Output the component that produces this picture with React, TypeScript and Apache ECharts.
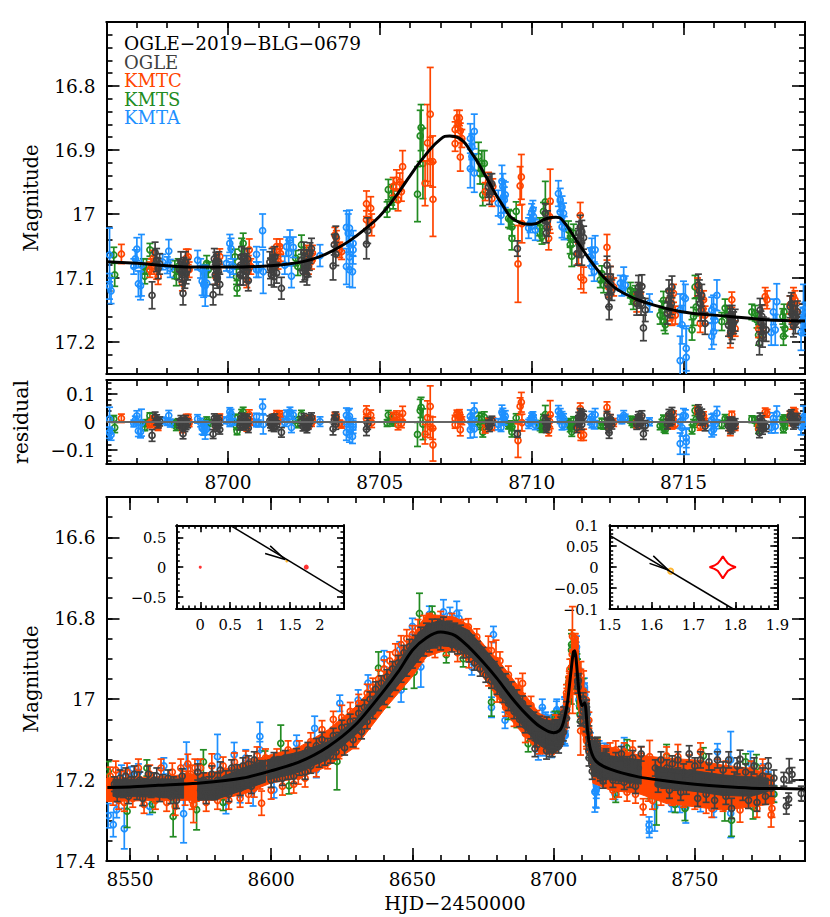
import React, { useEffect, useRef } from "react";
import * as echarts from "echarts";

const TITLE = "OGLE−2019−BLG−0679";
const FONT = '"DejaVu Serif", serif';
const GRAY = "#404040";
const ORANGE = "#ff4500";
const GREEN = "#228b22";
const BLUE = "#1e90ff";

// ---- close-up panel: [HJD-2450000, magnitude, error]
const ogleClose = [
[8697.5,17.127,.021],[8697.65,17.072,.018],[8697.7,17.085,.016],[8697.6,17.06,.016],[8697.75,17.078,.016],[8698.52,17.124,.018],[8698.4,17.087,.016],[8698.5,17.095,.016],[8698.62,17.093,.016],[8698.67,17.087,.016],[8698.55,17.082,.014],[8698.45,17.075,.016],[8698.58,17.1,.016],[8698.6,17.075,.016],[8698.48,17.09,.016],
[8699.51,17.126,.016],[8699.73,17.11,.016],[8699.62,17.087,.016],[8699.68,17.09,.016],[8699.58,17.095,.016],[8699.62,17.08,.016],[8699.55,17.07,.016],[8699.65,17.1,.016],[8699.6,17.076,.016],[8699.7,17.075,.016],
[8700.67,17.104,.016],[8700.45,17.067,.016],[8700.5,17.085,.016],[8700.62,17.09,.016],[8700.5,17.095,.016],[8700.4,17.095,.016],[8700.55,17.07,.016],[8700.6,17.078,.016],[8700.42,17.08,.016],[8700.65,17.07,.016],
[8701.76,17.116,.017],[8701.38,17.075,.016],[8701.49,17.08,.016],[8701.54,17.067,.016],[8701.43,17.095,.016],[8701.58,17.08,.016],[8701.45,17.07,.016],[8701.52,17.098,.016],[8701.6,17.092,.016],[8701.4,17.085,.016],
[8702.42,17.072,.016],[8702.53,17.077,.016],[8702.64,17.082,.016],[8702.7,17.061,.016],[8702.75,17.054,.016],[8702.53,17.087,.016],[8702.5,17.06,.016],[8702.6,17.095,.016],[8702.68,17.072,.016],[8702.47,17.09,.016],
[8703.46,17.081,.022],[8703.55,17.0625,.018],[8703.5,17.048,.016],[8703.55,17.035,.016],
[8704.56,17.047,.023],[8704.6,17.026,.02],
[8708.63,16.953,.016],[8708.58,16.958,.016],[8708.69,16.953,.016],[8708.61,16.969,.016],
[8709.53,17.054,.012],
[8710.5,17.02,.015],[8710.45,16.999,.015],[8710.52,17.01,.015],[8710.48,17.03,.015],
[8711.6,17.02,.018],[8711.65,17.028,.018],[8711.54,17.041,.018],[8711.49,17.062,.018],[8711.65,17.062,.018],[8711.71,17.037,.018],[8711.55,17.03,.018],[8711.6,17.05,.018],
[8712.48,17.08,.014],[8712.55,17.145,.02],[8712.59,17.098,.016],[8712.64,17.119,.016],[8712.53,17.129,.016],[8712.6,17.11,.016],[8712.5,17.11,.016],
[8713.52,17.114,.018],[8713.63,17.113,.018],[8713.57,17.129,.018],[8713.46,17.14,.018],[8713.74,17.15,.018],[8713.68,17.178,.02],[8713.5,17.125,.018],[8713.6,17.14,.018],
[8714.62,17.114,.017],[8714.51,17.135,.017],[8714.56,17.145,.017],[8714.47,17.155,.017],[8714.6,17.14,.017],[8714.52,17.12,.017],
[8715.49,17.111,.017],[8715.6,17.127,.017],[8715.55,17.14,.017],[8715.71,17.171,.017],[8715.52,17.12,.017],[8715.58,17.15,.017],
[8716.6,17.16,.017],[8716.7,17.166,.017],[8716.48,17.174,.017],[8716.6,17.179,.017],[8716.55,17.165,.017],[8716.52,17.16,.017],[8716.58,17.17,.017],[8716.65,17.17,.017],[8716.55,17.185,.017],
[8717.5,17.202,.018],[8717.58,17.16,.018],[8717.63,17.179,.018],[8717.72,17.181,.018],[8717.52,17.15,.018],[8717.55,17.17,.018],[8717.6,17.19,.018],
[8718.51,17.145,.017],[8718.63,17.16,.017],[8718.68,17.17,.017],[8718.57,17.155,.017],[8718.75,17.153,.017],[8718.55,17.14,.017],[8718.62,17.175,.017],[8718.7,17.16,.017],
];
const orangeClose = [
[8696.49,17.0625,.015],[8697.48,17.082,.012],[8697.54,17.069,.012],[8697.65,17.09,.012],[8697.7,17.098,.012],[8697.43,17.087,.012],
[8698.5,17.108,.012],[8698.63,17.069,.014],[8698.69,17.067,.012],[8698.72,17.087,.012],
[8699.62,17.082,.012],[8699.68,17.074,.012],[8699.73,17.0665,.012],[8699.6,17.098,.012],
[8700.7,17.056,.017],[8700.67,17.077,.012],[8700.62,17.103,.012],[8700.75,17.082,.012],
[8701.49,17.064,.012],[8701.6,17.051,.012],[8701.71,17.051,.012],[8701.65,17.074,.012],[8701.73,17.062,.012],
[8702.59,17.061,.012],[8702.75,17.074,.012],[8702.78,17.061,.012],[8702.65,17.082,.012],
[8703.52,17.033,.012],[8703.57,17.038,.012],[8703.68,17.056,.012],[8703.74,17.059,.012],
[8704.56,16.984,.02],[8704.7,16.991,.018],[8704.56,17.009,.014],[8704.73,17.017,.017],
[8705.44,16.957,.014],[8705.55,16.947,.016],[8705.66,16.95,.014],[8705.71,16.965,.015],[8705.6,16.978,.017],[8705.75,16.926,.025],
[8706.49,16.952,.035],[8706.57,16.889,.06],[8706.66,16.844,.073],[8706.66,16.918,.038],[8706.74,16.918,.04],[8706.75,16.977,.058],
[8707.48,16.868,.012],[8707.48,16.89,.012],[8707.54,16.85,.012],[8707.59,16.858,.012],[8707.65,16.911,.022],[8707.65,16.87,.012],[8707.7,16.882,.014],[8707.62,16.85,.012],
[8708.47,16.965,.014],[8708.58,16.949,.014],[8708.69,16.976,.012],[8708.72,16.957,.012],
[8709.66,16.942,.035],[8709.62,16.956,.03],[8709.68,17.015,.03],[8709.55,17.078,.06],
[8710.56,17.038,.018],[8710.61,16.98,.05],[8710.59,17.004,.02],
[8711.6,17.002,.02],[8711.62,17.099,.018],[8711.71,17.103,.02],[8711.54,17.062,.016],
[8712.48,17.052,.02],[8712.59,17.098,.016],[8712.7,17.114,.014],[8712.53,17.114,.016],
[8713.46,17.139,.014],[8713.57,17.124,.014],
[8714.51,17.134,.014],[8714.67,17.124,.014],[8714.62,17.16,.014],[8714.73,17.158,.014],[8714.56,17.153,.014],
[8715.46,17.114,.014],[8715.66,17.134,.014],[8715.71,17.158,.014],[8715.55,17.171,.014],[8715.64,17.148,.014],
[8716.59,17.134,.012],[8716.54,17.189,.02],[8716.7,17.179,.012],[8716.59,17.171,.014],
[8717.69,17.129,.014],[8717.61,17.179,.014],[8717.75,17.134,.014],[8717.47,17.179,.014],
[8718.51,17.142,.014],[8718.67,17.134,.014],[8718.73,17.153,.014],[8718.57,17.166,.014],[8718.62,17.129,.014],
];
const greenClose = [
[8696.24,17.064,.012],[8696.27,17.095,.018],[8697.26,17.097,.012],[8697.32,17.082,.012],[8697.43,17.056,.01],[8697.21,17.082,.012],
[8698.25,17.087,.014],[8698.3,17.098,.014],[8698.36,17.082,.012],[8699.24,17.093,.014],[8699.35,17.087,.012],[8699.3,17.077,.012],
[8700.23,17.067,.012],[8700.3,17.116,.012],[8700.28,17.098,.012],[8700.45,17.054,.016],[8700.5,17.046,.016],
[8702.23,17.069,.012],[8702.3,17.082,.014],[8702.42,17.048,.015],[8702.53,17.067,.015],
[8705.24,16.993,.012],[8705.28,16.962,.016],[8705.39,16.97,.016],[8705.44,16.978,.014],
[8706.24,16.969,.043],[8706.33,16.878,.04],[8706.36,16.865,.036],[8706.42,16.921,.055],
[8708.25,16.91,.022],[8708.36,16.921,.02],[8708.44,16.921,.02],[8708.39,16.97,.017],[8708.3,16.937,.016],
[8709.29,17.009,.014],[8709.35,17.038,.018],[8709.49,16.996,.015],[8709.35,17.02,.014],[8709.24,17.007,.014],
[8710.26,17.02,.014],[8710.34,17.035,.012],[8710.39,16.996,.014],[8710.45,16.981,.032],[8710.28,17.03,.012],
[8711.27,17.038,.014],[8711.21,17.025,.014],[8711.32,17.066,.016],[8711.27,17.048,.014],[8711.38,17.03,.014],
[8712.26,17.103,.012],[8712.31,17.093,.012],[8712.37,17.111,.012],
[8713.3,17.129,.012],[8713.35,17.137,.012],[8713.25,17.119,.012],[8713.41,17.124,.012],
[8714.23,17.158,.014],[8714.29,17.15,.014],[8714.34,17.135,.014],[8714.36,17.168,.014],[8714.4,17.173,.014],
[8715.38,17.114,.018],[8715.28,17.181,.016],[8715.33,17.16,.014],[8715.42,17.145,.014],
[8716.26,17.168,.014],[8716.37,17.147,.014],[8716.43,17.158,.014],
[8717.25,17.153,.012],[8717.36,17.155,.012],[8717.47,17.189,.016],[8717.42,17.166,.012],
[8718.29,17.191,.014],[8718.34,17.179,.012],[8718.27,17.16,.012],[8718.31,17.153,.012],
];
const blueClose = [
[8696.1,17.064,.042],[8696.1,17.113,.02],[8696.15,17.12,.02],[8696.9,17.082,.012],[8696.95,17.07,.014],[8697,17.055,.018],[8697.05,17.109,.02],[8697.12,17.112,.022],[8697.15,17.08,.048],
[8697.85,17.075,.012],[8698,17.08,.013],[8698.05,17.058,.018],[8698.1,17.085,.014],[8699,17.072,.015],[8699.1,17.085,.015],[8699.15,17.105,.022],[8699.2,17.11,.02],[8699.25,17.112,.032],[8699.3,17.108,.02],
[8700.06,17.046,.014],[8700.1,17.054,.016],[8699.95,17.077,.012],[8700.06,17.087,.012],[8700.17,17.082,.012],
[8700.94,17.063,.012],[8701,17.087,.012],[8701.14,17.026,.026],[8701.16,17.09,.034],[8700.94,17.087,.012],
[8701.93,17.051,.015],[8702.04,17.041,.016],[8702.15,17.052,.016],[8702.09,17.097,.018],[8701.87,17.08,.014],[8702,17.061,.02],
[8703.03,17.065,.017],[8703.9,17.021,.026],[8703.96,17.03,.03],[8704,17.022,.028],[8703.9,17.082,.028],[8704,17.087,.027],[8704.1,17.09,.025],[8704.12,17.056,.022],[8704.12,17.046,.02],[8704,17.067,.02],
[8707.98,16.882,.023],[8708.11,16.871,.027],[8707.98,16.929,.03],[8708.11,16.936,.03],[8708.03,16.895,.02],[8708.03,16.91,.02],
[8709.02,16.949,.025],[8709.07,16.973,.025],[8709.13,16.97,.02],[8708.9,16.983,.02],[8708.99,17.002,.014],[8709.05,16.957,.02],[8709.1,16.978,.02],
[8710,16.999,.015],[8710.06,17.004,.014],[8709.95,17.015,.014],[8709.9,17.022,.016],[8710.12,17.025,.016],[8710,17.009,.014],[8710.04,16.993,.014],
[8710.88,16.968,.02],[8710.94,16.978,.018],[8711,16.989,.017],[8711.05,16.999,.016],[8711,17.02,.017],[8711.07,17.022,.018],[8710.94,16.997,.016],
[8711.98,17.056,.018],[8712.09,17.056,.022],[8711.98,17.082,.014],[8712.06,17.09,.015],[8711.93,17.067,.014],
[8712.92,17.108,.012],[8713.03,17.1,.017],[8713.08,17.111,.014],[8712.97,17.116,.012],[8713.88,17.139,.014],
[8714.89,17.229,.038],[8715.09,17.21,.035],[8715.09,17.224,.045],[8715,17.129,.024],[8715.06,17.132,.022],[8714.95,17.173,.03],[8714.89,17.15,.025],
[8715.93,17.191,.02],[8715.99,17.184,.02],[8716.1,17.127,.024],[8715.93,17.15,.02],[8716.04,17.166,.016],[8715.99,17.145,.018],
[8717.89,17.185,.02],[8718.02,17.181,.024],[8717.96,17.153,.02],[8718.07,17.137,.028],
[8718.87,17.185,.028],[8718.95,17.15,.04],[8718.93,17.166,.02],[8719,17.158,.02],
];

// ---- full season panel, outside the close-up interval
const ogleSeason = [
[8544.5,17.21,.018],[8545.5,17.235,.018],[8546.5,17.195,.02],[8547.5,17.225,.018],[8548.5,17.19,.02],[8549.5,17.24,.018],[8550.5,17.21,.018],[8551.5,17.185,.02],[8552.5,17.23,.018],[8553.5,17.2,.02],[8554.5,17.245,.018],[8555.5,17.215,.018],[8556.5,17.185,.02],[8557.5,17.225,.018],[8558.5,17.2,.018],[8559.5,17.19,.02],[8560.5,17.235,.018],[8561.5,17.205,.018],[8562.5,17.225,.018],[8563.5,17.195,.02],[8564.5,17.24,.018],[8565.5,17.21,.018],[8566.5,17.25,.02],[8567.5,17.22,.018],[8568.5,17.19,.018],
[8574,17.18,.02],[8575,17.225,.018],[8576,17.2,.018],[8577,17.24,.018],[8578,17.21,.018],[8579,17.185,.02],[8580,17.23,.018],[8581,17.2,.018],[8582,17.175,.02],[8583,17.22,.018],[8584,17.195,.018],[8585,17.235,.018],[8586,17.17,.02],[8587,17.21,.018],[8588,17.18,.018],[8589,17.22,.018],[8590,17.165,.02],[8591,17.2,.018],[8592,17.16,.02],[8593,17.215,.018],[8594,17.15,.02],[8595,17.19,.018],[8596,17.17,.018],
[8599,17.17,.018],[8600,17.2,.018],[8601,17.15,.018],[8602,17.185,.018],[8603,17.16,.018],[8604,17.195,.018],[8605,17.145,.018],[8606,17.18,.018],[8607,17.155,.018],[8608,17.19,.018],[8609,17.14,.018],[8610,17.17,.018],[8611,17.15,.018],[8612,17.18,.018],[8613,17.125,.018],[8614,17.165,.018],[8615,17.14,.018],[8616,17.115,.018],[8617,17.15,.018],[8618,17.1,.018],[8619,17.145,.018],[8620,17.115,.018],[8621,17.14,.018],[8622,17.09,.018],[8623,17.13,.018],[8624,17.1,.018],[8625,17.07,.018],[8626,17.12,.018],[8627,17.08,.018],[8628,17.055,.018],[8629,17.1,.018],[8630,17.065,.018],[8631,17.035,.018],[8632,17.08,.018],[8633,17.02,.018],[8634,17.055,.018],[8635,17,.018],[8636,17.03,.018],[8637,16.975,.018],[8638,17.01,.018],[8639,16.96,.018],[8640,16.995,.018],[8641,16.945,.018],[8642,16.975,.018],[8643,16.925,.018],[8644,16.96,.018],[8645,16.91,.018],[8646,16.94,.018],[8647,16.885,.018],[8648,16.925,.018],[8649,16.87,.018],[8650,16.905,.018],[8651,16.86,.018],[8652,16.89,.018],[8653,16.84,.018],[8654,16.875,.018],[8655,16.83,.018],[8656,16.865,.018],[8657,16.82,.018],[8658,16.855,.018],[8659,16.82,.018],[8660,16.86,.018],[8661,16.815,.018],[8662,16.85,.018],[8663,16.825,.018],[8664,16.865,.018],[8665,16.83,.018],[8666,16.87,.018],[8667,16.835,.018],[8668,16.88,.018],[8669,16.85,.018],[8670,16.89,.018],[8671,16.86,.018],[8672,16.91,.018],[8673,16.875,.018],[8674,16.925,.018],[8675,16.89,.018],[8676,16.94,.018],[8677,16.905,.018],[8678,16.955,.018],[8679,16.925,.018],[8680,16.97,.018],[8681,16.94,.018],[8682,16.99,.018],[8683,16.955,.018],[8684,17.01,.018],[8685,16.975,.018],[8686,17.03,.018],[8687,16.995,.018],[8688,17.05,.018],[8689,17.01,.018],[8690,17.065,.018],[8691,17.035,.018],[8692,17.08,.018],[8693,17.05,.018],[8693.4,17.122,.02],[8694,17.1,.018],[8695,17.06,.018],[8695.5,17.09,.018],
[8720,17.16,.018],[8721,17.2,.018],[8722,17.15,.018],[8723,17.19,.018],[8724,17.135,.018],[8725,17.205,.018],[8726,17.16,.018],[8727,17.2,.018],[8728,17.145,.018],[8729,17.215,.018],[8730,17.17,.018],[8731,17.135,.018],
[8736,17.17,.02],[8737,17.21,.02],[8738,17.15,.02],[8739,17.2,.02],[8740,17.17,.02],[8741,17.225,.02],[8742,17.16,.02],[8743,17.205,.02],[8744,17.15,.02],[8745,17.23,.02],[8746,17.18,.02],[8747,17.215,.02],[8748,17.135,.02],[8749,17.195,.02],[8750,17.165,.02],[8751,17.245,.02],[8752,17.15,.02],[8753,17.205,.02],[8754,17.235,.02],[8755,17.155,.02],[8756,17.195,.02],[8757,17.25,.02],[8758,17.15,.02],[8759,17.215,.02],[8760,17.175,.02],[8761,17.24,.02],[8762,17.15,.02],[8763,17.27,.025],[8764,17.2,.02],[8765,17.165,.02],[8766,17.148,.022],[8767,17.23,.02],[8768,17.18,.02],[8769,17.25,.02],[8770,17.2,.02],[8771,17.165,.02],[8772,17.255,.022],[8773,17.21,.02],[8774,17.19,.02],[8775,17.24,.02],[8776,17.165,.02],[8777,17.22,.02],[8778,17.195,.02],
[8781.5,17.198,.017],[8783.4,17.177,.03],[8784.4,17.186,.017],[8782.4,17.264,.02],[8783.2,17.247,.015],[8787.7,17.233,.018],
];
const orangeSeason = [
[8543,17.19,.022],[8544,17.24,.022],[8545,17.175,.022],[8546,17.25,.022],[8547,17.2,.022],[8548,17.255,.022],[8549,17.18,.022],[8551,17.245,.022],[8553,17.17,.022],[8555,17.26,.022],[8557,17.185,.022],[8559,17.25,.022],[8561,17.17,.022],[8563,17.255,.022],[8565,17.18,.022],[8566,17.265,.022],[8568,17.17,.022],
[8569.5,17.24,.022],[8570,17.2,.022],[8570.5,17.16,.024],[8571,17.22,.022],[8571.5,17.185,.022],[8572,17.25,.022],[8572.5,17.26,.045],[8573,17.17,.022],[8573.5,17.23,.022],
[8575,17.17,.022],[8577,17.255,.022],[8579,17.165,.03],[8581,17.25,.022],[8583,17.165,.022],[8585,17.25,.022],[8587,17.155,.022],[8589,17.245,.022],[8591,17.15,.022],[8592,17.235,.022],[8593,17.17,.022],[8594,17.22,.022],[8595,17.14,.022],[8596,17.2,.022],[8596.6,17.257,.03],[8597,17.17,.02],[8598,17.145,.022],
[8600,17.225,.022],[8602,17.145,.022],[8604,17.215,.022],[8606,17.125,.022],[8608,17.21,.022],[8609.6,17.19,.02],[8610,17.125,.022],[8612,17.195,.022],[8614,17.105,.022],[8616,17.17,.022],[8618,17.075,.022],[8620,17.15,.022],[8622,17.05,.02],[8624,17.125,.022],[8625,17.045,.03],[8626,17.085,.022],[8628,17.03,.022],[8630,17.1,.022],[8631,17.01,.022],[8632,17.045,.022],[8634,16.985,.022],[8635,17.03,.022],[8636,16.97,.022],[8637,17.005,.022],[8638,16.95,.022],[8639,16.99,.022],[8640,16.925,.022],[8641,16.97,.022],[8642,16.905,.022],[8643,16.955,.022],[8644,16.885,.022],[8645,16.94,.022],[8646,16.865,.022],[8647,16.92,.022],[8648,16.85,.022],[8649,16.91,.022],[8650,16.84,.022],[8651,16.895,.022],[8652,16.825,.022],[8653,16.885,.022],[8654,16.815,.022],[8655,16.87,.022],[8656,16.81,.022],[8658,16.875,.022],[8660,16.805,.022],[8662,16.87,.022],[8664,16.81,.022],[8666,16.885,.022],[8668,16.825,.022],[8669.8,16.821,.02],[8670,16.9,.022],[8672.8,16.846,.02],[8674,16.9,.022],[8676.9,16.879,.035],[8677,16.945,.022],[8678,16.88,.022],[8679.6,16.904,.05],[8680,16.985,.022],[8681,16.905,.022],[8683,17.02,.022],[8684,16.94,.022],[8686,17.045,.022],[8687.5,16.974,.025],[8689,16.961,.025],[8690,17.085,.022],[8692,17.015,.022],[8694,17.05,.022],[8695,17.115,.02],
[8720,17.13,.022],[8721,17.225,.022],[8722,17.125,.022],[8723,17.22,.022],[8725,17.13,.022],[8726,17.23,.022],[8728,17.125,.022],[8729,17.235,.022],[8731,17.14,.022],[8731.7,17.266,.02],
[8732.5,17.2,.022],[8733,17.165,.022],[8733.5,17.23,.022],[8734,17.142,.04],[8734.7,17.18,.03],[8735,17.25,.022],[8735.5,17.21,.022],
[8738,17.24,.022],[8740,17.14,.022],[8742,17.24,.022],[8744,17.142,.03],[8744.5,17.18,.022],[8746,17.245,.022],[8748,17.16,.022],[8750,17.25,.022],[8752,17.13,.022],[8754,17.26,.022],[8756,17.27,.022],[8758,17.17,.022],[8760,17.255,.022],[8761,17.175,.022],[8763,17.23,.022],[8764,17.195,.022],[8766,17.274,.03],[8768,17.21,.022],[8770,17.175,.022],[8772,17.27,.022],[8774,17.17,.022],[8776,17.23,.022],[8777,17.286,.03],[8777.3,17.27,.022],
];
const greenSeason = [
[8542.3,17.179,.025],[8549,17.277,.04],[8556,17.17,.02],[8558,17.26,.02],[8565.3,17.29,.05],[8573.6,17.273,.05],[8576,17.155,.03],[8583,17.255,.02],[8597.8,17.158,.03],[8603.4,17.109,.045],[8606.3,17.214,.02],[8618,17.14,.02],[8623.3,17.154,.07],[8633,17.035,.025],[8638,16.923,.04],[8641,17,.02],[8647,16.955,.02],[8650.6,16.933,.04],[8652.5,16.788,.05],[8657,16.79,.02],[8662,16.89,.02],[8668,16.9,.02],[8678,17.007,.035],[8684,17.03,.02],[8687,17.05,.02],[8691,17.11,.02],[8702,17.05,.02],
[8722,17.235,.02],[8726,17.12,.02],[8734,17.216,.03],[8736.4,17.241,.07],[8740,17.142,.03],[8743,17.26,.02],[8746.5,17.27,.03],[8753,17.14,.02],[8760.6,17.266,.035],[8763,17.299,.04],[8768,17.155,.02],[8770.6,17.266,.03],[8771.8,17.167,.03],[8773,17.24,.02],[8776,17.208,.02],[8778,17.235,.02],
];
const blueSeason = [
[8542.3,17.288,.03],[8544.1,17.31,.03],[8548,17.32,.05],[8545.3,17.273,.02],[8547,17.183,.02],[8550,17.183,.016],[8553,17.18,.02],[8557,17.265,.02],[8562,17.165,.02],[8569,17.283,.072],[8570,17.166,.06],[8574,17.17,.02],[8581,17.142,.055],[8584,17.253,.03],[8586.9,17.137,.03],[8589,17.236,.02],[8591,17.145,.02],[8593.6,17.224,.04],[8596,17.125,.02],[8596,17.092,.035],[8601,17.224,.02],[8609,17.109,.02],[8615.4,17.072,.03],[8616,17.174,.02],[8624.3,17.01,.02],[8630.8,17.002,.025],[8632,17.059,.02],[8634.3,16.96,.02],[8640,16.9,.02],[8646,16.977,.03],[8645.5,16.878,.02],[8650,16.82,.02],[8653,16.92,.05],[8656,16.79,.02],[8661,16.784,.03],[8663.3,16.793,.02],[8665.7,16.788,.03],[8666.5,16.8,.02],[8671,16.92,.02],[8678,17.02,.025],[8678.7,16.84,.02],[8682.8,17.052,.02],[8694.6,17.13,.02],[8696,17.02,.02],[8701,17.03,.025],
[8714.6,17.229,.05],[8715.2,17.216,.02],[8721.7,17.233,.015],[8725,17.115,.02],[8733.8,17.311,.02],[8733.9,17.322,.02],[8735.8,17.266,.06],[8741.7,17.258,.02],[8744.7,17.26,.02],[8746.8,17.266,.04],[8752,17.258,.02],[8756.7,17.272,.02],[8758,17.13,.02],[8762.7,17.282,.06],[8762.7,17.15,.07],[8769.7,17.159,.03],[8774.2,17.18,.02],[8776,17.2,.02],[8777.7,17.233,.02],
];

// ---- where the season's points overlap into solid colour: [HJD-2450000, bright edge, faint edge]
const orangeCrowd = [
[8541.7,17.195,17.253],[8560,17.192,17.25],[8580,17.18,17.25],[8590,17.16,17.235],[8600,17.137,17.207],[8610,17.118,17.195],[8620,17.076,17.166],[8630,17.018,17.117],[8640,16.936,17.026],[8650,16.845,16.944],[8655,16.79,16.895],[8660,16.793,16.883],[8665,16.797,16.879],[8670,16.817,16.904],[8675,16.863,16.945],[8680,16.9,16.994],[8685,16.945,17.052],[8690,16.99,17.093],[8695,17.035,17.134],[8700,17.052,17.138],[8703,17.044,17.118],[8705,16.986,17.068],[8706,16.9,17],[8707.5,16.846,16.945],[8709,16.91,17.03],[8710,16.953,17.085],[8712,17.02,17.118],[8714,17.1,17.208],[8717,17.118,17.216],[8720,17.118,17.225],[8730,17.138,17.233],[8740,17.146,17.258],[8750,17.15,17.266],[8760,17.163,17.274],[8770,17.171,17.266],[8778,17.19,17.258],
];
const ogleCrowdEarly = [
[8544,17.198,17.24],[8560,17.197,17.242],[8569,17.197,17.245],
];
const ogleCrowdMiddle = [
[8574,17.195,17.25],[8580,17.2,17.249],[8590,17.17,17.225],[8598,17.15,17.205],
];
const ogleCrowdPeak = [
[8598.6,17.15,17.2],[8610,17.13,17.18],[8620,17.105,17.148],[8630,17.05,17.087],[8640,16.96,17.006],[8650,16.858,16.922],[8655,16.815,16.878],[8660,16.805,16.867],[8665,16.813,16.871],[8670,16.83,16.891],[8675,16.871,16.924],[8680,16.912,16.978],[8685,16.965,17.027],[8690,17.012,17.075],[8695,17.044,17.114],[8700,17.06,17.134],[8703,17.052,17.118],
];
const ogleCrowdDecline = [
[8713.5,17.125,17.19],[8720,17.14,17.2],[8731,17.15,17.21],
];
const ogleCrowdLate = [
[8736,17.165,17.215],[8740,17.17,17.22],[8750,17.177,17.228],[8760,17.187,17.238],[8770,17.192,17.24],[8776,17.195,17.228],
];

// ---- model light curves: [HJD-2450000, magnitude]
const modelClose = [
[8696,17.0745],[8697,17.077],[8698,17.081],[8699,17.083],[8700,17.083],[8701,17.082],[8702,17.078],[8702.5,17.074],[8703,17.067],[8703.5,17.056],[8704,17.042],[8704.5,17.024],[8705,17.003],[8705.5,16.974],[8706,16.94],[8706.5,16.908],[8707,16.883],[8707.3,16.878],[8707.6,16.881],[8708,16.903],[8708.5,16.942],[8709,16.983],[8709.5,17.011],[8710,17.016],[8710.5,17.007],[8710.8,17.005],[8711,17.009],[8711.5,17.043],[8712,17.077],[8712.5,17.105],[8713,17.123],[8714,17.142],[8715,17.153],[8716,17.158],[8717,17.162],[8718,17.166],[8719,17.167],
];
const modelSeason = [
[8542,17.218],[8550,17.217],[8560,17.213],[8575,17.207],[8590,17.195],[8600,17.177],[8610,17.155],[8620,17.118],[8630,17.062],[8640,16.978],[8645,16.932],[8650,16.879],[8655,16.848],[8660,16.834],[8665,16.842],[8670,16.871],[8675,16.908],[8680,16.949],[8685,16.995],[8690,17.035],[8695,17.067],[8700,17.083],[8702,17.078],[8703,17.067],[8704,17.042],[8705,17.003],[8706,16.94],[8707,16.883],[8707.5,16.88],[8708,16.903],[8709,16.983],[8710,17.016],[8711,17.009],[8712,17.077],[8713,17.123],[8715,17.153],[8720,17.173],[8730,17.192],[8740,17.202],[8750,17.21],[8760,17.216],[8770,17.22],[8780,17.221],[8789,17.222],
];
const zeroLine = [[8696,0],[8719,0]];

// ---- geometry insets
const wideTrack = [[0.5,0.7],[2.4,-0.45]];
const wideArrow = [[1.167,0.356],[1.417,0.128],[1.083,0.228]];
const wideSource = [[1.444,0.105]];
const wideLens = [[0,0],[1.77,0]];
const zoomTrack = [[1.5,0.076],[1.795,-0.1]];
const zoomArrow = [[1.604,0.027],[1.64,-0.007],[1.595,0.009]];
const zoomSource = [[1.6455,-0.0095]];
const caustic = [[1.738,0],[1.75,0.004],[1.758,0.009],[1.765,0.018],[1.77,0.026],[1.775,0.018],[1.782,0.009],[1.79,0.004],[1.801,0],[1.79,-0.004],[1.782,-0.009],[1.775,-0.019],[1.77,-0.027],[1.765,-0.019],[1.758,-0.009],[1.75,-0.004],[1.738,0]];

// ---- tick labels
const magTicksClose = [16.8,16.9,17,17.1,17.2];
const resTicks = [0.1,0,-0.1];
const hjdTicksClose = [8700,8705,8710,8715];
const magTicksSeason = [16.6,16.8,17,17.2,17.4];
const hjdTicksSeason = [8550,8600,8650,8700,8750];
const wideXTicks = [0,0.5,1,1.5,2];
const wideYTicks = [0.5,0,-0.5];
const zoomXTicks = [1.5,1.6,1.7,1.8,1.9];
const zoomYTicks = [0.1,0.05,0,-0.05,-0.1];

const steps = (a: number, b: number, s: number) => {
  const out: number[] = [];
  for (let i = Math.ceil(a / s - 1e-6); i * s <= b + 1e-9; i++) out.push(+(i * s).toFixed(4));
  return out;
};

const modelAt = (table: number[][], x: number) => {
  let i = 0;
  while (i < table.length - 2 && table[i + 1][0] < x) i++;
  const [x0, y0] = table[i], [x1, y1] = table[i + 1];
  return y0 + ((y1 - y0) * (x - x0)) / (x1 - x0);
};
const residuals = (pts: number[][]) => pts.map(([x, m, e]) => [x, +(modelAt(modelClose, x) - m).toFixed(4), e]);

const fmt = (v: number) => String(v).replace("-", "−");

type AxisCfg = { min: number; max: number; majors: number[]; minors: number[]; inverse?: boolean; labels?: boolean; size?: number; margin?: number; major: number; minor: number };

function axes(grid: number, dim: "x" | "y", c: AxisCfg) {
  const sides = dim === "x" ? ["bottom", "top"] : ["left", "right"];
  const base = { gridIndex: grid, type: "value", min: c.min, max: c.max, inverse: !!c.inverse, splitLine: { show: false },
    axisLine: { show: true, onZero: false, lineStyle: { color: "#000", width: 2 } } };
  const tick = (vals: number[], len: number) => ({ show: true, inside: true, length: len, customValues: vals, lineStyle: { color: "#000", width: 1.6 } });
  const none = { show: false };
  return [
    { ...base, position: sides[0], axisTick: tick(c.majors, c.major),
      axisLabel: c.labels === false ? none : { show: true, customValues: c.majors, formatter: fmt, color: "#000", fontFamily: FONT, fontSize: c.size ?? 18.5, margin: c.margin ?? 10, hideOverlap: false } },
    { ...base, position: sides[0], axisTick: tick(c.minors, c.minor), axisLabel: none },
    { ...base, position: sides[1], axisTick: tick(c.majors, c.major), axisLabel: none },
    { ...base, position: sides[1], axisTick: tick(c.minors, c.minor), axisLabel: none },
  ];
}

const errorBars = (color: string, r: number, cap: number, lw: number) => (_: any, api: any) => {
  const x = api.value(0), y = api.value(1), e = api.value(2);
  const c = api.coord([x, y]), a = api.coord([x, y - e]), b = api.coord([x, y + e]);
  const stroke = { stroke: color, lineWidth: lw, fill: "none" };
  return {
    type: "group",
    silent: true,
    children: [
      { type: "line", shape: { x1: c[0], y1: a[1], x2: c[0], y2: b[1] }, style: stroke },
      { type: "line", shape: { x1: c[0] - cap, y1: a[1], x2: c[0] + cap, y2: a[1] }, style: stroke },
      { type: "line", shape: { x1: c[0] - cap, y1: b[1], x2: c[0] + cap, y2: b[1] }, style: stroke },
      { type: "circle", shape: { cx: c[0], cy: c[1], r }, style: stroke },
    ],
  };
};
const points = (grid: number, data: number[][], color: string) => ({
  type: "custom", xAxisIndex: grid * 4, yAxisIndex: grid * 4, clip: true, silent: true,
  encode: { x: 0, y: 1 }, data, renderItem: errorBars(color, 3, 3.5, 1.7),
});
const crowd = (grid: number, table: number[][], color: string) => ({
  type: "custom", xAxisIndex: grid * 4, yAxisIndex: grid * 4, clip: true, silent: true,
  encode: { x: 0, y: [1, 2] }, data: table,
  renderItem: (params: any, api: any) => {
    const i = params.dataIndex;
    if (i >= table.length - 1) return null;
    const [x0, a0, b0] = table[i], [x1, a1, b1] = table[i + 1];
    return {
      type: "polygon", silent: true,
      shape: { points: [api.coord([x0, a0]), api.coord([x1, a1]), api.coord([x1, b1]), api.coord([x0, b0])] },
      style: { fill: color, stroke: color, lineWidth: 1 },
    };
  },
});
const line = (grid: number, data: number[][], color: string, width: number, smooth: number | boolean = false) => ({
  type: "line", xAxisIndex: grid * 4, yAxisIndex: grid * 4, data, symbol: "none", smooth, clip: true, silent: true,
  lineStyle: { color, width },
});
const dots = (grid: number, data: number[][], color: string, size: number, extra: any = {}) => ({
  type: "scatter", xAxisIndex: grid * 4, yAxisIndex: grid * 4, data, symbolSize: size, silent: true,
  itemStyle: { color }, ...extra,
});

const label = (text: string, x: number, y: number, fill = "#000", opts: any = {}) => ({
  type: "text", x, y, rotation: opts.rotation ?? 0, silent: true,
  style: { text, fill, font: `${opts.size ?? 18.5}px ${FONT}`, textAlign: opts.align ?? "left", textVerticalAlign: "middle" },
});

export default function App() {
  const ref = useRef<HTMLDivElement>(null);
  useEffect(() => {
    const chart = echarts.init(ref.current!, undefined, { renderer: "svg" });
    const L = 106.5, W = 698.5;
    const upright = { rotation: Math.PI / 2, align: "center" };
    chart.setOption({
      animation: false,
      backgroundColor: "#fff",
      textStyle: { fontFamily: FONT },
      grid: [
        { left: L, top: 22, width: W, height: 352 },
        { left: L, top: 380, width: W, height: 84 },
        { left: L, top: 497, width: W, height: 364 },
        { left: 176.3, top: 525.3, width: 167.7, height: 83.7 },
        { left: 609.7, top: 525.3, width: 167.6, height: 83.7 },
      ],
      xAxis: [
        ...axes(0, "x", { min: 8696, max: 8719, majors: hjdTicksClose, minors: steps(8696, 8719, 1), labels: false, major: 13, minor: 6 }),
        ...axes(1, "x", { min: 8696, max: 8719, majors: hjdTicksClose, minors: steps(8696, 8719, 1), major: 13, minor: 6, margin: 9 }),
        ...axes(2, "x", { min: 8541.7, max: 8789, majors: hjdTicksSeason, minors: steps(8541.7, 8789, 10), major: 13, minor: 6, margin: 9 }),
        ...axes(3, "x", { min: -0.4, max: 2.4, majors: wideXTicks, minors: steps(-0.4, 2.4, 0.1), major: 7, minor: 3.5, size: 14.7, margin: 8 }),
        ...axes(4, "x", { min: 1.5, max: 1.9, majors: zoomXTicks, minors: steps(1.5, 1.9, 0.02), major: 7, minor: 3.5, size: 14.7, margin: 8 }),
      ],
      yAxis: [
        ...axes(0, "y", { min: 16.7, max: 17.25, inverse: true, majors: magTicksClose, minors: steps(16.7, 17.25, 0.02), major: 13, minor: 6, margin: 11 }),
        ...axes(1, "y", { min: -0.15, max: 0.15, majors: resTicks, minors: steps(-0.15, 0.15, 0.02), major: 11, minor: 5, margin: 11 }),
        ...axes(2, "y", { min: 16.5, max: 17.4, inverse: true, majors: magTicksSeason, minors: steps(16.5, 17.4, 0.05), major: 13, minor: 6, margin: 11 }),
        ...axes(3, "y", { min: -0.7, max: 0.7, majors: wideYTicks, minors: steps(-0.7, 0.7, 0.1), major: 7, minor: 3.5, size: 14.7, margin: 10 }),
        ...axes(4, "y", { min: -0.1, max: 0.1, majors: zoomYTicks, minors: steps(-0.1, 0.1, 0.01), major: 7, minor: 3.5, size: 14.7, margin: 11 }),
      ],
      series: [
        points(0, greenClose, GREEN),
        points(0, orangeClose, ORANGE),
        points(0, blueClose, BLUE),
        points(0, ogleClose, GRAY),
        line(0, modelClose, "#000", 3, 0.5),

        points(1, residuals(greenClose), GREEN),
        points(1, residuals(orangeClose), ORANGE),
        points(1, residuals(blueClose), BLUE),
        points(1, residuals(ogleClose), GRAY),
        line(1, zeroLine, "#666", 2),

        points(2, blueSeason.concat(blueClose), BLUE),
        points(2, greenSeason.concat(greenClose), GREEN),
        crowd(2, orangeCrowd, ORANGE),
        points(2, orangeSeason.concat(orangeClose), ORANGE),
        crowd(2, ogleCrowdEarly, GRAY),
        crowd(2, ogleCrowdMiddle, GRAY),
        crowd(2, ogleCrowdPeak, GRAY),
        crowd(2, ogleCrowdDecline, GRAY),
        crowd(2, ogleCrowdLate, GRAY),
        points(2, ogleSeason.concat(ogleClose), GRAY),
        line(2, modelSeason, "#000", 3, 0.25),

        line(3, wideTrack, "#000", 1.5),
        line(3, wideArrow, "#000", 1.5),
        dots(3, wideLens.slice(0, 1), "#ff0000", 3),
        dots(3, wideLens.slice(1), "#ff0000", 5),
        dots(3, wideSource, "#ffa500", 3),

        line(4, zoomTrack, "#000", 1.5),
        line(4, zoomArrow, "#000", 1.5),
        line(4, caustic, "#ff0000", 2),
        dots(4, zoomSource, "none", 5, { itemStyle: { color: "none", borderColor: "#ffa500", borderWidth: 2 } }),
      ],
      graphic: [
        label(TITLE, 124, 43.5),
        label("OGLE", 124, 62, GRAY, { size: 18 }),
        label("KMTC", 124, 80.5, ORANGE, { size: 18 }),
        label("KMTS", 124, 99, GREEN, { size: 18 }),
        label("KMTA", 124, 117.5, BLUE, { size: 18 }),
        label("Magnitude", 31, 198, "#000", { ...upright, size: 19.5 }),
        label("residual", 21, 422, "#000", { ...upright, size: 20.5 }),
        label("Magnitude", 31, 679, "#000", { ...upright, size: 19.5 }),
        label("HJD−2450000", 455, 903, "#000", { align: "center", size: 19.2 }),
      ],
    });
    return () => chart.dispose();
  }, []);
  return <div ref={ref} style={{ position: "absolute", left: 0, top: 0, width: 830, height: 917 }} />;
}
